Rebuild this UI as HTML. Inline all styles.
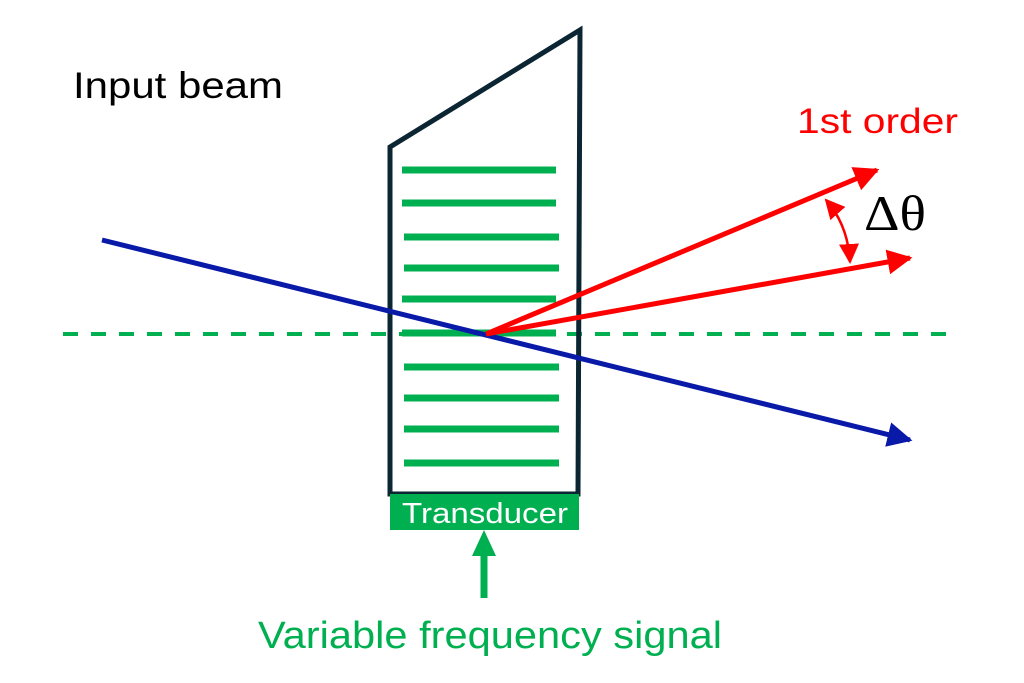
<!DOCTYPE html>
<html><head><style>
html,body{margin:0;padding:0;background:#fff;}
svg{display:block;}
</style></head><body>
<svg width="1024" height="683" viewBox="0 0 1024 683" xmlns="http://www.w3.org/2000/svg">
<defs>
<marker id="ab" viewBox="0 0 10 10" refX="9" refY="5" markerWidth="5" markerHeight="5" orient="auto" markerUnits="strokeWidth"><path d="M0,0 L10,5 L0,10 z" fill="#0a1aa8"/></marker>
<marker id="ar" viewBox="0 0 10 10" refX="9" refY="5" markerWidth="5" markerHeight="5" orient="auto" markerUnits="strokeWidth"><path d="M0,0 L10,5 L0,10 z" fill="#ff0000"/></marker>
<marker id="as" viewBox="0 0 10 10" refX="9" refY="5" markerWidth="8" markerHeight="8" orient="auto-start-reverse" markerUnits="strokeWidth"><path d="M0,0 L10,5 L0,10 z" fill="#ff0000"/></marker>
</defs>
<g stroke="#00b050" stroke-width="7">
<line x1="402" y1="170" x2="556" y2="170"/>
<line x1="402" y1="203" x2="556" y2="203"/>
<line x1="404" y1="237" x2="559" y2="237"/>
<line x1="404" y1="268" x2="559" y2="268"/>
<line x1="402" y1="299" x2="556" y2="299"/>
<line x1="402" y1="333" x2="556" y2="333"/>
<line x1="404" y1="367" x2="559" y2="367"/>
<line x1="404" y1="398" x2="559" y2="398"/>
<line x1="404" y1="429" x2="559" y2="429"/>
<line x1="404" y1="463" x2="559" y2="463"/>
</g>
<line x1="63" y1="334" x2="950" y2="334" stroke="#00b050" stroke-width="4" stroke-dasharray="15,13"/>
<polygon points="390,494 390,147 580,30 578,494" fill="none" stroke="#0b2533" stroke-width="5"/>
<line x1="102" y1="240" x2="910" y2="440" stroke="#0a1aa8" stroke-width="5" marker-end="url(#ab)"/>
<line x1="486" y1="334" x2="877" y2="170" stroke="#ff0000" stroke-width="5" marker-end="url(#ar)"/>
<line x1="486" y1="334" x2="910" y2="258" stroke="#ff0000" stroke-width="5" marker-end="url(#ar)"/>
<path d="M826,200 Q848,225 850,262" fill="none" stroke="#ff0000" stroke-width="2.5" marker-start="url(#as)" marker-end="url(#as)"/>
<rect x="390" y="494" width="189" height="36" fill="#00b050"/>
<text x="402" y="523" textLength="166" lengthAdjust="spacingAndGlyphs" font-family="Liberation Sans, sans-serif" font-size="29" fill="#fff">Transducer</text>
<line x1="484" y1="598" x2="484" y2="550" stroke="#00b050" stroke-width="7"/>
<polygon points="472,556 484,530 496,556" fill="#00b050"/>
<text x="73" y="98" textLength="210" lengthAdjust="spacingAndGlyphs" font-family="Liberation Sans, sans-serif" font-size="37" fill="#000">Input beam</text>
<text x="797" y="133" textLength="161" lengthAdjust="spacingAndGlyphs" font-family="Liberation Sans, sans-serif" font-size="35" fill="#ff0000">1st order</text>
<text x="864" y="230" textLength="62" lengthAdjust="spacingAndGlyphs" font-family="Liberation Serif, serif" font-size="50" fill="#000">Δθ</text>
<text x="258" y="648" textLength="464" lengthAdjust="spacingAndGlyphs" font-family="Liberation Sans, sans-serif" font-size="38" fill="#00b050">Variable frequency signal</text>
</svg>
</body></html>
